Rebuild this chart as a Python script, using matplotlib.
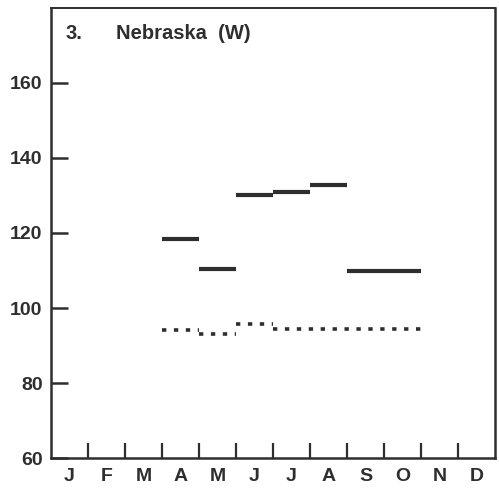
import matplotlib.pyplot as plt
import numpy as np

plt.rcParams["font.family"] = ["Liberation Sans", "DejaVu Sans"]

months = ["J", "F", "M", "A", "M", "J", "J", "A", "S", "O", "N", "D"]

# solid bars: start month index, end month index, level
solid_start = [3, 4, 5, 6, 7, 8]
solid_end = [4, 5, 6, 7, 8, 10]
solid_level = [118.4, 110.4, 130.1, 131.0, 132.9, 109.8]

# dotted bars
dotted_start = [3, 4, 5, 6]
dotted_end = [4, 5, 6, 10]
dotted_level = [94.2, 93.2, 95.7, 94.5]

ink = "#2e2e2e"

fig = plt.figure(figsize=(4.99, 4.91), dpi=100)
ax = fig.add_axes([0.102, 0.067, 0.890, 0.917])

for x0, x1, y in zip(solid_start, solid_end, solid_level):
    ax.plot([x0, x1], [y, y], color=ink, lw=3.0, solid_capstyle="butt")

for x0, x1, y in zip(dotted_start, dotted_end, dotted_level):
    ax.plot([x0, x1], [y, y], color=ink, lw=2.6, linestyle=(0, (1.2, 2.1)),
            dash_capstyle="butt")

ax.set_xlim(0, 12)
ax.set_ylim(60, 180)

ax.set_yticks([60, 80, 100, 120, 140, 160])
ax.set_xticks(np.arange(1, 12))
ax.set_xticklabels([])
ax.set_xticks(np.arange(12) + 0.5, minor=True)
ax.set_xticklabels(months, minor=True)

ax.tick_params(axis="y", direction="in", length=12, width=1.8, color=ink,
               labelsize=14, labelcolor=ink, pad=6)
ax.tick_params(axis="x", which="major", direction="in", length=11, width=1.6,
               color=ink)
ax.tick_params(axis="x", which="minor", length=0, labelsize=14,
               labelcolor=ink, pad=7)
for lab in ax.get_yticklabels() + ax.get_xticklabels(minor=True):
    lab.set_fontweight("bold")

for side in ax.spines.values():
    side.set_linewidth(1.8)
    side.set_color(ink)
ax.spines["top"].set_linewidth(1.4)

ax.text(0.4, 173.2, "3.", fontsize=14.5, fontweight="bold", color=ink,
        ha="left", va="center")
ax.text(1.75, 173.2, "Nebraska  (W)", fontsize=14.5, fontweight="bold",
        color=ink, ha="left", va="center")

fig.savefig("out.png", dpi=100)
